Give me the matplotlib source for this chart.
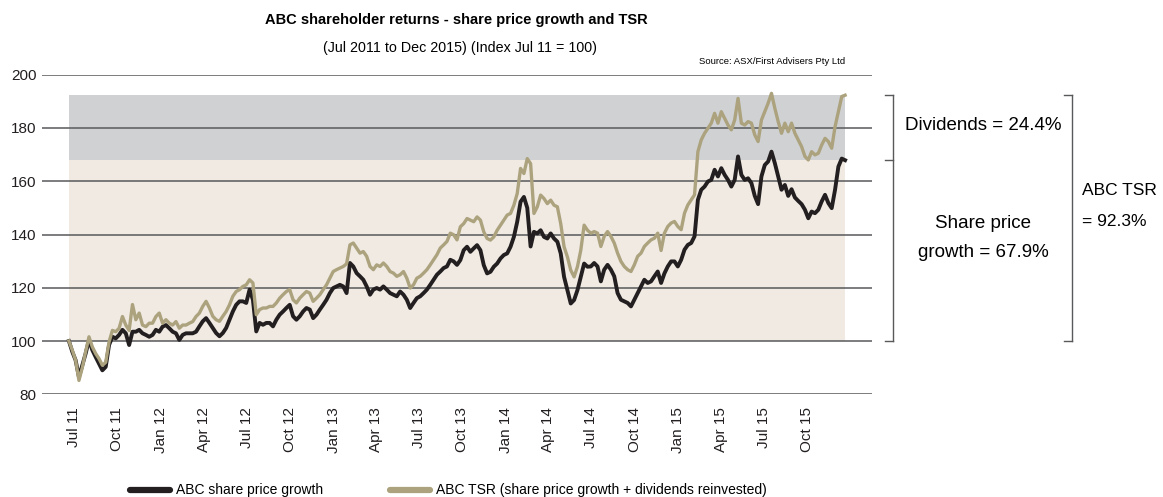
import pandas as pd
import matplotlib
matplotlib.use('Agg')
import matplotlib.pyplot as plt
from matplotlib.lines import Line2D
from matplotlib.transforms import blended_transform_factory, ScaledTranslation

plt.rcParams['font.family'] = ['Liberation Sans Narrow', 'Liberation Sans', 'DejaVu Sans']

# weekly index values, Jul 2011 = 100
share_price = [
    100, 96, 92.8, 86.5, 90.9, 95.3, 100.4, 96.6, 94, 91.5, 89, 90.3, 98.5,
    101.6, 101, 102.3, 104.2, 102.9, 98.5, 103.5, 103.5, 104.2, 102.9, 102.3,
    101.6, 102.3, 104.2, 103.5, 105.4, 106, 104.8, 103.5, 102.9, 100.4, 102.3,
    102.9, 102.9, 102.9, 103.5,
    105.5, 107.4, 108.6, 106.8, 104.9, 103, 101.8, 103, 104.9, 108, 111.1,
    113.6, 114.9, 114.9, 114.3, 119.3, 115.5, 103.6, 106.8, 106.1, 106.8,
    106.8, 105.5, 108, 109.9, 111.1, 112.4, 113.6, 109.3, 108, 109.3, 111.1,
    112.4, 111.8, 108.6, 109.9, 111.8, 113.6, 115.5,
    118, 119.9, 120.5, 121.1, 120.5, 118, 129.3, 128, 125.5, 124.3, 123,
    120.5, 117.4, 119.3, 119.9, 119.3, 120.5, 119.3, 118, 117.4, 116.8, 118.6,
    117.4, 115.5, 112.4, 114.3, 116.1, 116.8, 118, 119.3, 121.1, 123, 124.9,
    126.1, 127.4, 128, 130.5, 129.9, 128.6,
    130.4, 134.1, 135.4, 133.5, 134.8, 136, 134.1, 128.5, 125.4, 126, 127.9,
    129.1, 131, 132.3, 132.9, 135.4, 139.1, 144.8, 152.3, 154.1, 150, 135.5,
    141, 140.4, 141.6, 139.1, 138.5, 140.4, 138.5, 137.3, 132.9, 124.1, 119.1,
    114.1, 115.4, 119.1, 124.1, 129.1, 127.9,
    128, 129.3, 128, 122.4, 126.8, 128.6, 126.8, 124.3, 118, 115.5, 114.9,
    114.3, 113, 115.5, 118, 120.5, 123, 121.8, 122.4, 124.3, 126.1, 121.8,
    125.4, 128, 129.9, 129.9, 128, 130.5, 134.3, 136.1, 136.8, 139.3, 153,
    156.8, 158, 159.9, 160.5, 164.3, 161.8,
    164.9, 162.4, 160.5, 158, 160.5, 169.3, 162.4, 160.5, 161.1, 159.3, 154.5,
    151.4, 161.8, 166.1, 167.4, 171.1, 166.8, 161.8, 156.8, 158.6, 154.5, 157,
    153.9, 152.6, 151.4, 149.3, 146.1, 148.6, 148, 149.3, 152.4, 154.9, 151.8,
    149.9, 156.8, 165.5, 168.5, 167.9,
]

tsr = [
    100, 96.6, 92.8, 85.2, 90, 96, 101.6, 97.8, 95.3, 93.4, 90.9, 92, 99.7,
    104, 103.5, 104.8, 109.2, 106, 104, 113.7, 108, 110.5, 106, 105.4, 106.7,
    106.7, 109.2, 110.5, 106.7, 108, 106.7, 106, 107.3, 104.8, 106, 106, 106.7,
    107.3, 109.2,
    110.5, 113, 114.9, 112.4, 109.3, 108, 107.4, 109.3, 111.1, 113.6, 116.8,
    118.6, 119.3, 120.5, 121.1, 123, 121.8, 109.9, 111.8, 112.4, 112.4, 113,
    113, 114.3, 116.1, 117.4, 118.6, 119.3, 115.5, 114.3, 116.1, 117.4, 118.6,
    118, 114.9, 116.1, 117.4, 119.3, 121.1,
    123.6, 126.1, 126.8, 127.4, 128, 129, 136.1, 136.8, 134.9, 133, 133.6,
    131.8, 128, 126.8, 128.6, 128, 129.3, 128, 126.1, 125.5, 124.3, 124.9,
    126.1, 123.6, 119.9, 121.1, 123.6, 124.3, 125.5, 126.8, 128.6, 130.5,
    132.4, 134.9, 136.1, 137.4, 140.5, 139.9, 138,
    142.9, 144.1, 146, 145.4, 144.8, 146.6, 145.4, 141, 138.5, 137.9, 139.1,
    141.6, 143.5, 145.4, 147.3, 147.9, 151, 155.4, 164.8, 162.9, 168.5, 166.6,
    147.9, 150.4, 154.8, 153.5, 151.6, 152.9, 151, 150.4, 144.1, 135.4, 131.6,
    126.6, 124.1, 127.9, 134.1, 143.5, 141.6,
    140.5, 141.1, 140.5, 135.5, 139.3, 141.1, 139.3, 136.8, 133, 129.9, 128,
    126.8, 126.1, 128.6, 131.8, 133, 135.5, 136.8, 138, 138.6, 140.5, 134,
    140.5, 143, 144.3, 144.9, 143, 141.8, 148, 151.1, 153, 154.9, 171.1, 175.5,
    178, 179.9, 181.8, 185.5, 181.8,
    186.1, 183.6, 181.1, 179.3, 183, 191.1, 181.8, 181.1, 182.4, 181.8, 177.4,
    174.9, 183, 186.1, 189.3, 193, 187.4, 182.4, 178, 181.8, 178.6, 181.8,
    178, 175.5, 173, 169.3, 168, 171.1, 169.9, 170.5, 173.6, 176.1, 174.9,
    172.4, 180.5, 186.1, 191.8, 192.3,
]

tick_dates = ['2011-07-01', '2011-10-01', '2012-01-01', '2012-04-01', '2012-07-01',
              '2012-10-01', '2013-01-01', '2013-04-01', '2013-07-01', '2013-10-01',
              '2014-01-01', '2014-04-01', '2014-07-01', '2014-10-01', '2015-01-01',
              '2015-04-01', '2015-07-01', '2015-10-01']
tick_labels = ['Jul 11', 'Oct 11', 'Jan 12', 'Apr 12', 'Jul 12', 'Oct 12', 'Jan 13',
               'Apr 13', 'Jul 13', 'Oct 13', 'Jan 14', 'Apr 14', 'Jul 14', 'Oct 14',
               'Jan 15', 'Apr 15', 'Jul 15', 'Oct 15']
y_ticks = [80, 100, 120, 140, 160, 180, 200]

share_growth = 67.9
dividends = 24.4
tsr_total = 92.3

dates = pd.date_range('2011-07-01', '2015-12-31', periods=len(share_price))

BLACK = '#231f20'
TAN = '#aca37e'
BEIGE = '#f0eae3'
GREY = '#d0d1d3'
RULE = '#58595b'

W, H = 1163, 497
fig = plt.figure(figsize=(W / 100, H / 100), dpi=100)
ax = fig.add_axes([42 / W, 1 - 394.3 / H, 830 / W, 319.6 / H])

# shaded bands: share price growth and dividends
ax.fill_between([dates[0], dates[-1]], 100, 100 + share_growth, color=BEIGE, lw=0, zorder=0)
ax.fill_between([dates[0], dates[-1]], 100 + share_growth, 100 + tsr_total, color=GREY, lw=0, zorder=0)

ax.plot(dates, share_price, color=BLACK, lw=2.8, zorder=3)
ax.plot(dates, tsr, color=TAN, lw=2.4, zorder=4)

ax.set_ylim(80, 200)
ax.set_xlim(pd.Timestamp('2011-05-05'), pd.Timestamp('2016-02-26'))
ax.set_yticks(y_ticks)
ax.set_xticks(pd.to_datetime(tick_dates))
ax.set_xticklabels(tick_labels, rotation=90, va='top', ha='center')
ax.tick_params(length=0, labelsize=11, colors=BLACK)
ax.tick_params(axis='y', pad=4)
ax.tick_params(axis='x', pad=9)
for lab in ax.get_xticklabels():
    lab.set_transform(lab.get_transform() + ScaledTranslation(0.05, 0, fig.dpi_scale_trans))
ax.grid(axis='y', color=RULE, lw=1.1)
ax.grid(axis='x', visible=False)
for s in ax.spines.values():
    s.set_visible(False)
ax.set_facecolor('none')

# titles
fig.text(456 / W, 1 - 20 / H, 'ABC shareholder returns - share price growth and TSR',
         ha='center', va='center', fontsize=10.5, fontweight='bold')
fig.text(460 / W, 1 - 48 / H, '(Jul 2011 to Dec 2015) (Index Jul 11 = 100)',
         ha='center', va='center', fontsize=10.3)
fig.text(845 / W, 1 - 62 / H, 'Source: ASX/First Advisers Pty Ltd',
         ha='right', va='center', fontsize=6.8)

# brackets to the right of the plot
trans = blended_transform_factory(fig.transFigure, ax.transData)
top, mid, bot = 100 + tsr_total, 100 + share_growth, 100
for x_line, marks in [(893, [top, mid, bot]), (1072, [top, bot])]:
    fig.add_artist(Line2D([x_line / W] * 2, [top, bot], transform=trans, color=RULE, lw=1))
    for yv in marks:
        fig.add_artist(Line2D([(x_line - 8) / W, x_line / W], [yv, yv], transform=trans,
                              color=RULE, lw=1))

fig.text(983 / W, 1 - 125 / H, f'Dividends = {dividends}%', ha='center', va='center',
         fontsize=13.5)
fig.text(983 / W, 1 - 238 / H, f'Share price\ngrowth = {share_growth}%', ha='center',
         va='center', fontsize=13.5, linespacing=1.85)
fig.text(1082 / W, 1 - 206 / H, f'ABC TSR\n= {tsr_total}%', ha='left', va='center',
         fontsize=12.5, linespacing=2.4)

# legend along the bottom edge
ly = 1 - 490 / H
for x0, colour, label in [(130, BLACK, 'ABC share price growth'),
                          (390, TAN, 'ABC TSR (share price growth + dividends reinvested)')]:
    fig.add_artist(Line2D([x0 / W, (x0 + 40) / W], [ly, ly], color=colour, lw=4.5,
                          solid_capstyle='round'))
    fig.text((x0 + 46) / W, ly, label, ha='left', va='center', fontsize=10)

fig.savefig('out.png', dpi=100)
